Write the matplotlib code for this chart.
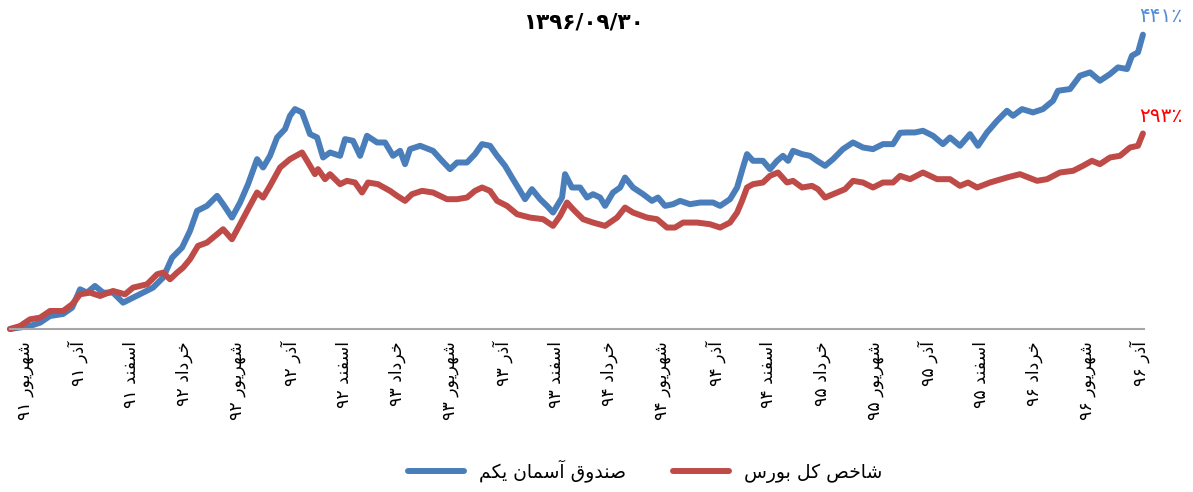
import re
import matplotlib
matplotlib.use("Agg")
import matplotlib.pyplot as plt

# months from the first label (شهریور ۹۱), values in percent
blue_t = [-0.85, 0.28, 0.85, 1.41, 2.15, 2.66, 3.11, 3.50, 3.95, 4.41,
          4.97, 5.54, 6.10, 6.67, 7.23, 7.80, 8.31, 8.87, 9.32, 9.72,
          10.28, 10.85, 11.19, 11.69, 12.15, 12.60, 13.11, 13.45, 13.84, 14.24,
          14.69, 14.97, 15.25, 15.65, 16.10, 16.50, 16.84, 17.23, 17.80, 18.08,
          18.53, 18.93, 19.32, 19.89, 20.34, 20.79, 21.19, 21.47, 21.75, 22.32,
          23.05, 23.56, 24.01, 24.41, 24.97, 25.42, 25.82, 26.27, 26.67, 27.12,
          27.51, 27.97, 28.25, 28.64, 29.10, 29.49, 29.83, 30.34, 30.51, 30.90,
          31.36, 31.75, 32.09, 32.49, 32.77, 33.22, 33.62, 33.90, 34.35, 34.92,
          35.42, 35.76, 36.16, 36.61, 37.01, 37.57, 38.14, 38.87, 39.27, 39.83,
          40.23, 40.56, 40.79, 41.13, 41.69, 42.09, 42.49, 42.82, 43.11, 43.39,
          43.90, 44.35, 44.75, 45.20, 45.65, 46.21, 46.78, 47.34, 47.91, 48.47,
          49.04, 49.44, 49.83, 50.28, 50.73, 51.30, 51.86, 52.26, 52.82, 53.39,
          53.84, 54.35, 54.92, 55.48, 55.82, 56.33, 56.95, 57.51, 58.08, 58.36,
          59.04, 59.60, 60.17, 60.73, 61.30, 61.75, 62.26, 62.54, 62.88, 63.16]
blue_v = [0, 4.5, 9.5, 19.5, 22.5, 32, 59.5, 54.5, 64.5, 54.5,
          54.5, 39.5, 47, 54.5, 62, 77, 107, 122, 147, 177,
          184.5, 199.5, 187, 167, 189.5, 217, 254.5, 242, 259.5, 287,
          299.5, 319.5, 329.5, 324.5, 292, 287, 257, 264.5, 259.5, 284.5,
          282, 259.5, 289.5, 279.5, 279.5, 259.5, 267, 247, 269.5, 274.5,
          267, 252, 239.5, 249.5, 249.5, 262, 277, 274.5, 259.5, 244.5,
          227, 207, 194.5, 209.5, 194.5, 184.5, 174.5, 197, 232, 212,
          212, 197, 202, 197, 184.5, 204.5, 212, 227, 212, 202,
          192, 197, 184.5, 187, 192, 187, 189.5, 189.5, 184.5, 194.5,
          212, 242, 262, 252, 252, 239.5, 252, 259.5, 252, 267,
          262, 259.5, 252, 244.5, 254.5, 269.5, 279.5, 272, 269.5, 277,
          277, 294, 294.5, 294.5, 297, 289.5, 277, 287, 274.5, 292,
          274.5, 294.5, 312, 327, 319.5, 329.5, 324.5, 329.5, 342, 357,
          359.5, 379.5, 384.5, 372, 382, 392, 389.5, 409.5, 414.5, 441]

red_t = [-0.85, -0.28, 0.28, 0.85, 1.41, 2.15, 2.66, 3.11, 3.67, 4.24,
         4.97, 5.65, 6.10, 6.89, 7.46, 7.80, 8.19, 8.59, 8.93, 9.32,
         9.77, 10.28, 10.85, 11.19, 11.69, 12.15, 12.60, 13.11, 13.45, 13.84,
         14.41, 14.97, 15.65, 15.99, 16.38, 16.55, 16.95, 17.23, 17.80, 18.19,
         18.64, 19.04, 19.38, 19.94, 20.62, 21.02, 21.47, 21.86, 22.43, 23.05,
         23.84, 24.41, 24.97, 25.42, 25.82, 26.27, 26.67, 27.23, 27.80, 28.53,
         29.27, 29.83, 30.23, 30.62, 30.96, 31.53, 32.09, 32.77, 33.45, 33.90,
         34.35, 35.14, 35.71, 36.27, 36.72, 37.18, 37.97, 38.70, 39.27, 39.83,
         40.23, 40.51, 40.79, 41.13, 41.69, 42.09, 42.54, 43.05, 43.39, 43.90,
         44.46, 44.80, 45.20, 45.88, 46.33, 46.78, 47.34, 47.91, 48.47, 49.04,
         49.44, 50.00, 50.73, 51.53, 52.26, 52.82, 53.28, 53.79, 54.52, 55.48,
         56.21, 57.18, 57.74, 58.47, 59.21, 59.77, 60.28, 60.73, 61.30, 61.86,
         62.43, 62.88, 63.16]
red_v = [0, 4.5, 14.5, 17, 27, 27, 37, 52, 54.5, 49.5,
         57, 52, 62, 67, 82, 84.5, 74.5, 84.5, 92, 104.5,
         124.5, 129.5, 142, 149.5, 134.5, 157, 179.5, 204.5, 197, 214.5,
         242, 254.5, 264.5, 249.5, 232, 239.5, 224.5, 232, 217, 222,
         219.5, 204.5, 219.5, 217, 207, 199.5, 192, 202, 207, 204.5,
         194.5, 194.5, 197, 207, 212, 207, 192, 184.5, 172, 167,
         164.5, 154.5, 169.5, 189.5, 179.5, 164.5, 159.5, 154.5, 167, 182,
         174.5, 167, 164.5, 152, 152, 159.5, 159.5, 157, 152, 159.5,
         174.5, 192, 212, 217, 219.5, 229.5, 234.5, 219.5, 222, 212,
         214.5, 209.5, 197, 204.5, 209.5, 222, 219.5, 212, 219.5, 219.5,
         229.5, 224.5, 234.5, 224.5, 224.5, 214.5, 219.5, 212, 219.5, 227,
         232, 222, 224.5, 234.5, 237, 244.5, 252, 247, 257, 259.5,
         272, 274.5, 293]

tick_labels = ["شهریور ۹۱", "آذر ۹۱", "اسفند ۹۱", "خرداد ۹۲", "شهریور ۹۲", "آذر ۹۲",
               "اسفند ۹۲", "خرداد ۹۳", "شهریور ۹۳", "آذر ۹۳", "اسفند ۹۳", "خرداد ۹۴",
               "شهریور ۹۴", "آذر ۹۴", "اسفند ۹۴", "خرداد ۹۵", "شهریور ۹۵", "آذر ۹۵",
               "اسفند ۹۵", "خرداد ۹۶", "شهریور ۹۶", "آذر ۹۶"]
blue_name = "صندوق آسمان یکم"
red_name = "شاخص کل بورس"
title = "۱۳۹۶/۰۹/۳۰"
blue_end = "۴۴۱٪"
red_end = "۲۹۳٪"

# matplotlib does no arabic shaping, so do it by hand: isolated, final, initial, medial
FORMS = {
    "ا": ("\uFE8D", "\uFE8E", None, None),
    "آ": ("\uFE81", "\uFE82", None, None),
    "د": ("\uFEA9", "\uFEAA", None, None),
    "ذ": ("\uFEAB", "\uFEAC", None, None),
    "ر": ("\uFEAD", "\uFEAE", None, None),
    "و": ("\uFEED", "\uFEEE", None, None),
    "ب": ("\uFE8F", "\uFE90", "\uFE91", "\uFE92"),
    "خ": ("\uFEA5", "\uFEA6", "\uFEA7", "\uFEA8"),
    "س": ("\uFEB1", "\uFEB2", "\uFEB3", "\uFEB4"),
    "ش": ("\uFEB5", "\uFEB6", "\uFEB7", "\uFEB8"),
    "ص": ("\uFEB9", "\uFEBA", "\uFEBB", "\uFEBC"),
    "ف": ("\uFED1", "\uFED2", "\uFED3", "\uFED4"),
    "ق": ("\uFED5", "\uFED6", "\uFED7", "\uFED8"),
    "ل": ("\uFEDD", "\uFEDE", "\uFEDF", "\uFEE0"),
    "م": ("\uFEE1", "\uFEE2", "\uFEE3", "\uFEE4"),
    "ن": ("\uFEE5", "\uFEE6", "\uFEE7", "\uFEE8"),
    "ه": ("\uFEE9", "\uFEEA", "\uFEEB", "\uFEEC"),
    "ی": ("\uFBFC", "\uFBFD", "\uFBFE", "\uFBFF"),
    "ک": ("\uFB8E", "\uFB8F", "\uFB90", "\uFB91"),
}


def fa(text):
    out = []
    for i, ch in enumerate(text):
        if ch not in FORMS:
            out.append(ch)
            continue
        prev = text[i - 1] if i > 0 else ""
        nxt = text[i + 1] if i < len(text) - 1 else ""
        jp = prev in FORMS and FORMS[prev][2] is not None
        jn = FORMS[ch][2] is not None and nxt in FORMS
        iso, fin, ini, med = FORMS[ch]
        out.append(med if jp and jn else fin if jp else ini if jn else iso)
    s = "".join(out)[::-1]
    return re.sub("[۰-۹]+", lambda m: m.group()[::-1], s)


plt.rcParams["font.family"] = ["DejaVu Sans"]

fig = plt.figure(figsize=(11.93, 4.92), dpi=100)
ax = fig.add_axes([10 / 1193, 163 / 492, 1134 / 1193, 307 / 492])

ax.plot(blue_t, blue_v, color="#4A7EBB", lw=4.3, clip_on=False, solid_capstyle="round",
        label=fa(blue_name))
ax.plot(red_t, red_v, color="#BE4B48", lw=4.3, clip_on=False, solid_capstyle="round",
        label=fa(red_name))

ax.set_xlim(-0.85, 63.22)
ax.set_ylim(0, 460)
ax.set_yticks([])
ax.set_xticks(range(0, 64, 3))
ax.set_xticklabels([fa(s) for s in tick_labels], rotation=90, va="top", ha="center", fontsize=12.5)
ax.tick_params(axis="x", length=0, pad=9)
for side in ["top", "right", "left"]:
    ax.spines[side].set_visible(False)
ax.spines["bottom"].set_color("#A6A6A6")
ax.spines["bottom"].set_linewidth(1.5)

ax.annotate(blue_end, (blue_t[-1], blue_v[-1]), xytext=(13, 13), textcoords="offset points",
            ha="center", va="center", fontsize=14.5, color="#558ED5", annotation_clip=False)
ax.annotate(red_end, (red_t[-1], red_v[-1]), xytext=(13, 12), textcoords="offset points",
            ha="center", va="center", fontsize=14.5, color="#FF0000", annotation_clip=False)

fig.text(583 / 1193, 1 - 22 / 492, title, ha="center", va="center", fontsize=15.5, fontweight="bold")

fig.legend(loc="center", bbox_to_anchor=(645 / 1193, 1 - 471 / 492), ncol=2, frameon=False,
           fontsize=13.5, handlelength=3, columnspacing=2.5)

fig.savefig("out.png", dpi=100)
